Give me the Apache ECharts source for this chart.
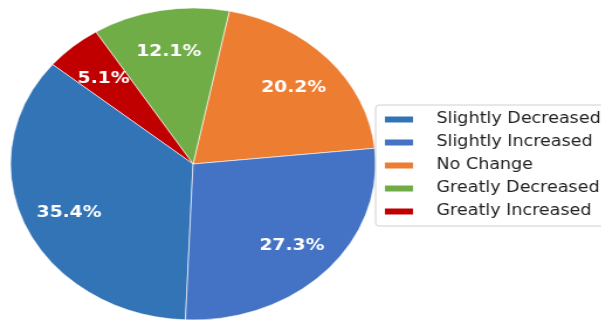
<!DOCTYPE html>
<html>
<head>
<meta charset="utf-8">
<script src="https://cdn.jsdelivr.net/npm/echarts@6/dist/echarts.min.js"></script>
<style>
html, body { margin: 0; padding: 0; background: #fff; overflow: hidden; }
#wrap { width: 601px; height: 323px; overflow: hidden; }
/* the source picture is stretched sideways, so the chart is too */
#main { width: 514px; height: 323px; transform: scaleX(1.17); transform-origin: 0 0; }
</style>
</head>
<body>
<div id="wrap"><div id="main"></div></div>
<script>
// legend order
var categories = ['Slightly Decreased', 'Slightly Increased', 'No Change', 'Greatly Decreased', 'Greatly Increased'];
var counts = [35, 27, 20, 12, 5];
var colors = ['#3274b5', '#4472c4', '#ed7d31', '#70ad47', '#c00000'];
// order the wedges are laid out, counter-clockwise from the start angle
var sliceOrder = [2, 3, 4, 0, 1];

var total = counts.reduce(function (a, b) { return a + b; }, 0);

function sliceData(withColor) {
    return sliceOrder.map(function (i) {
        return {
            name: categories[i],
            value: counts[i],
            itemStyle: { color: withColor ? colors[i] : 'rgba(0,0,0,0)' }
        };
    });
}

var chart = echarts.init(document.getElementById('main'), null, { renderer: 'canvas' });

var option = {
    animation: false,
    legend: {
        data: categories,
        orient: 'vertical',
        left: 321,
        top: 105,
        icon: 'rect',
        itemWidth: 26,
        itemHeight: 8,
        itemGap: 8,
        padding: [7, 6],
        borderColor: '#d0d0d0',
        borderWidth: 1,
        borderRadius: 3,
        backgroundColor: 'rgba(255,255,255,0.85)',
        selectedMode: false,
        textStyle: {
            fontFamily: 'DejaVu Sans',
            fontSize: 15,
            lineHeight: 15,
            color: '#222',
            padding: [0, 0, 0, 14]
        }
    },
    series: [{
        type: 'pie',
        center: [165, 164],
        radius: [0, 156],
        clockwise: false,
        startAngle: 5.8,
        silent: true,
        label: { show: false },
        labelLine: { show: false },
        itemStyle: { borderColor: '#ffffff', borderWidth: 0.6 },
        data: sliceData(true)
    }, {
        // transparent ring, only used to place the percent labels
        type: 'pie',
        center: [165, 164],
        radius: [70, 156],
        clockwise: false,
        startAngle: 5.8,
        silent: true,
        avoidLabelOverlap: false,
        labelLine: { show: false },
        label: {
            show: true,
            position: 'inside',
            offset: [0, 2],
            color: '#ffffff',
            fontFamily: 'DejaVu Sans',
            fontWeight: 'bold',
            fontSize: 16,
            formatter: function (p) {
                return (p.value / total * 100).toFixed(1) + '%';
            }
        },
        data: sliceData(false)
    }]
};

chart.setOption(option);
</script>
</body>
</html>
